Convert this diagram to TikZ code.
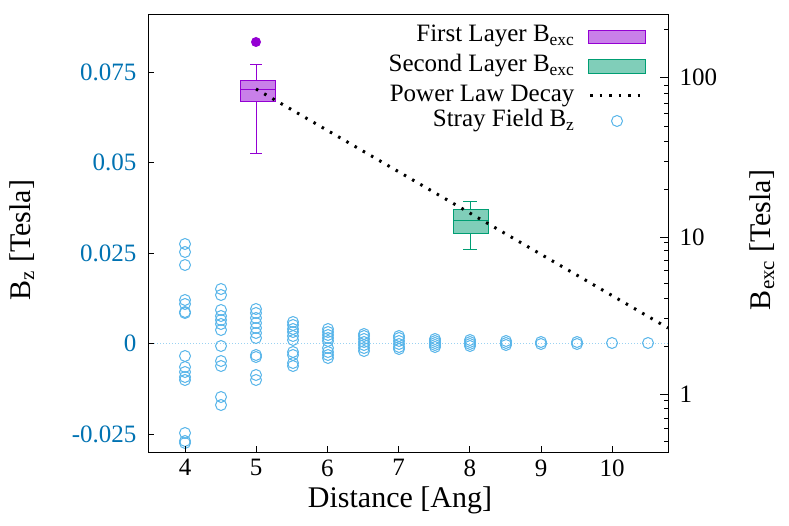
\documentclass[tikz,border=0pt]{standalone}
\usepackage{fontspec}
\setmainfont{Liberation Serif}
\usetikzlibrary{calc}
\definecolor{zblue}{RGB}{86,180,233}
\definecolor{tblue}{RGB}{0,114,178}
\definecolor{lpurp}{RGB}{148,0,211}
\definecolor{lgreen}{RGB}{0,158,115}
\tikzstyle{stray} = [draw=zblue, line width=1pt]
\tikzstyle{tick} = [font=\rmfamily\fontsize{25}{25}\selectfont]
\tikzstyle{lab} = [font=\rmfamily\fontsize{30}{30}\selectfont]
\tikzstyle{leg} = [font=\rmfamily\fontsize{25}{25}\selectfont, anchor=east]
\tikzstyle{decay} = [black, line width=3pt, dash pattern=on 2.5pt off 7pt]
\begin{document}
\begin{tikzpicture}[x=1pt,y=-1pt]
\useasboundingbox (0,0) rectangle (789,526);
% zero line
\draw [zblue!60, dotted, line width=1pt] (148,343) -- (668,343);
% stray field points
\foreach \x/\ys in {185/{244,252,265,300,304,312,313,356,367,372,377,380,433,441,443},
  221/{289,295,310,316,320,324,330,346,361,366,397,405},
  256/{309,313,318,323,328,333,338,355,357,375,380},
  293/{322,325,329,332,336,340,352,355,363,366},
  328/{329,332,335,338,341,348,352,355,358},
  364/{334,336,339,342,345,348,351},
  399/{336,338,341,344,347,349},
  435/{339,341,343,345,347},
  470/{340,342,344,346},
  506/{341,343,345},
  541/{342,344},
  577/{342,344},
  612/{343},
  648/{343}}{
  \foreach \y in \ys {\draw [stray] (\x,\y) circle (5.5);}
}
% first layer box
\draw [lpurp, line width=0.8pt] (256,101) -- (256,153) (250,153) -- (262,153)
  (256,80) -- (256,64) (250,64) -- (262,64);
\draw [lpurp, fill=lpurp!50, line width=0.8pt] (240,80) rectangle (275,101);
\draw [lpurp, line width=0.8pt] (240,89) -- (275,89);
\fill [lpurp] (256,42) circle (5);
% second layer box
\draw [lgreen, line width=0.8pt] (470,233) -- (470,249) (463,249) -- (477,249)
  (470,209) -- (470,201) (463,201) -- (477,201);
\draw [lgreen, fill=lgreen!50, line width=0.8pt] (453,209) rectangle (488,233);
\draw [lgreen, line width=0.8pt] (453,220) -- (488,220);
% power law
\draw [decay] (256,89) -- (668,328);
% frame
\draw [line width=1pt] (148,15) rectangle (668,452);
% x ticks
\foreach \v [count=\i from 0] in {4,...,10} {
  \draw [line width=0.8pt] ({185+71.2*\i},452) -- ({185+71.2*\i},446);
  \node [tick, anchor=north] (xt\v) at ({185+71.2*\i},456) {\v};
}
% left ticks
\foreach \y/\t in {72/0.075,162/0.05,253/0.025,343/0,434/-0.025} {
  \draw [line width=0.8pt] (148,\y) -- (154,\y);
  \node [tick, anchor=east, text=tblue] at (140,\y) {\t};
}
% right log ticks
\foreach \d/\t in {394/1,237/10,77/100} {
  \draw [line width=0.8pt] (668,\d) -- (660,\d);
  \node [tick, anchor=west] at (676,\d) {\t};
}
\foreach \d in {552,394,237,77} {
  \foreach \m in {2,...,9} {
    \pgfmathsetmacro{\yy}{\d-158.5*log10(\m)}
    \pgfmathparse{\yy>15 && \yy<452 ? 1 : 0}
    \ifnum\pgfmathresult=1 \draw [line width=0.8pt] (668,\yy) -- (664,\yy); \fi
  }
}
% axis labels
\node [lab] (xlab) at (400,500) {Distance [Ang]};
\node [lab, rotate=90] (ylab) at (22,240) {B\textsubscript{z} [Tesla]};
\node [lab, rotate=90] (y2lab) at (762,240) {B\textsubscript{exc} [Tesla]};
% legend
\node [leg] (l1) at (578,36) {First Layer B\textsubscript{exc}};
\node [leg] (l2) at (578,66) {Second Layer B\textsubscript{exc}};
\node [leg] (l3) at (578,96) {Power Law Decay};
\node [leg] (l4) at (578,121) {Stray Field B\textsubscript{z}};
\draw [lpurp, fill=lpurp!50, line width=0.8pt] (588,30) rectangle (645,43);
\draw [lgreen, fill=lgreen!50, line width=0.8pt] (588,59) rectangle (645,73);
\draw [decay] (590,96) -- (645,96);
\draw [stray] (617,121) circle (5.5);
\end{tikzpicture}
\end{document}
